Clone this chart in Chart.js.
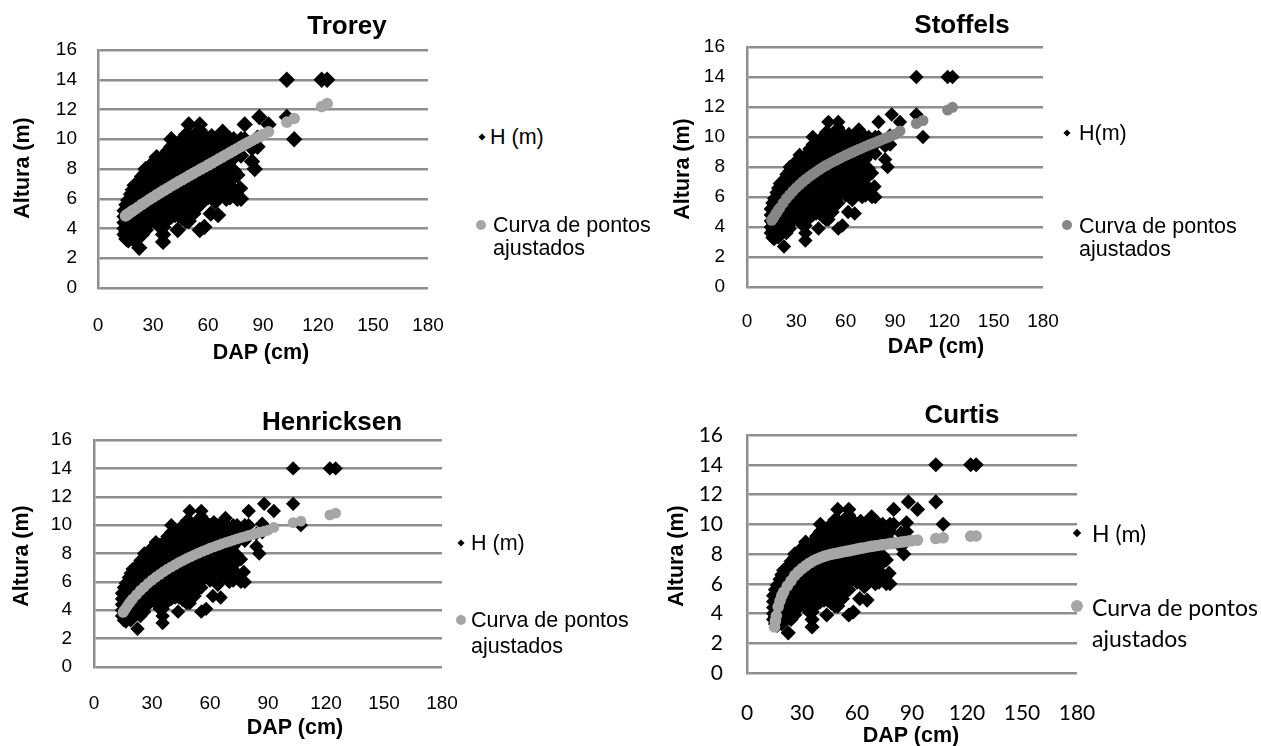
<!DOCTYPE html>
<html>
<head>
<meta charset="utf-8">
<title>Altura x DAP</title>
<script src="https://cdn.jsdelivr.net/npm/chart.js@4.4.1/dist/chart.umd.min.js"></script>
<style>
  html, body { margin: 0; padding: 0; background: #fff; }
  #page { position: relative; width: 1261px; height: 746px; overflow: hidden;
          font-family: 'Liberation Sans', Arial, sans-serif; color: #000; }
  canvas { position: absolute; }
  .txt { position: absolute; white-space: nowrap; line-height: 1; z-index: 2; }
  .title { font-weight: bold; font-size: 26px; transform: translate(-50%, -50%); }
  .axt { font-weight: bold; font-size: 21.5px; transform: translate(-50%, -50%); }
  .axt.rot { transform: translate(-50%, -50%) rotate(-90deg); }
  .leg { font-size: 21.5px; line-height: 23px; transform: translate(0, -11.5px); }
  .calibri { font-family: Lato, 'Open Sans', sans-serif; font-size: 23px; }
  .dia { position: absolute; width: 5px; height: 5px; background: #000; z-index: 2;
         transform: translate(-50%, -50%) rotate(45deg); }
  .dot { position: absolute; width: 10px; height: 10px; border-radius: 50%; z-index: 2;
         transform: translate(-50%, -50%); }
</style>
</head>
<body>
<div id="page">
  <canvas id="chartTrorey" width="476" height="345" style="left:0px;top:0px"></canvas>
  <canvas id="chartStoffels" width="451" height="340" style="left:640px;top:0px"></canvas>
  <canvas id="chartHenricksen" width="490" height="325" style="left:0px;top:400px"></canvas>
  <canvas id="chartCurtis" width="485" height="335" style="left:640px;top:395px"></canvas>

  <!-- Trorey -->
  <div class="txt title" style="left:347px;top:25px">Trorey</div>
  <div class="txt axt rot" style="left:23px;top:168px">Altura (m)</div>
  <div class="txt axt" style="left:261px;top:353px">DAP (cm)</div>
  <span class="dia" style="left:482px;top:137px"></span>
  <div class="txt leg" style="left:490px;top:137px">H (m)</div>
  <span class="dot" style="left:481px;top:225px;background:#a6a6a6"></span>
  <div class="txt leg" style="left:493px;top:225px">Curva de pontos<br>ajustados</div>

  <!-- Stoffels -->
  <div class="txt title" style="left:962px;top:24px">Stoffels</div>
  <div class="txt axt rot" style="left:683px;top:169px">Altura (m)</div>
  <div class="txt axt" style="left:936px;top:347px">DAP (cm)</div>
  <span class="dia" style="left:1067px;top:133px"></span>
  <div class="txt leg" style="left:1079px;top:133px">H(m)</div>
  <span class="dot" style="left:1067px;top:225px;background:#868686"></span>
  <div class="txt leg" style="left:1079px;top:226px">Curva de pontos<br>ajustados</div>

  <!-- Henricksen -->
  <div class="txt title" style="left:332px;top:421px">Henricksen</div>
  <div class="txt axt rot" style="left:22px;top:556px">Altura (m)</div>
  <div class="txt axt" style="left:295px;top:728px">DAP (cm)</div>
  <span class="dia" style="left:461px;top:543px"></span>
  <div class="txt leg" style="left:471px;top:543px">H (m)</div>
  <span class="dot" style="left:461px;top:620px;background:#a6a6a6"></span>
  <div class="txt leg" style="left:471px;top:620px;line-height:26px;transform:translate(0,-13px)">Curva de pontos<br>ajustados</div>

  <!-- Curtis -->
  <div class="txt title" style="left:962px;top:414px">Curtis</div>
  <div class="txt axt rot" style="left:677px;top:556px">Altura (m)</div>
  <div class="txt axt" style="left:911px;top:736px">DAP (cm)</div>
  <span class="dia" style="left:1077px;top:533px;width:6px;height:6px"></span>
  <div class="txt leg calibri" style="left:1092px;top:533px">H (m)</div>
  <span class="dot" style="left:1077px;top:606px;width:12px;height:12px;background:#a6a6a6"></span>
  <div class="txt leg calibri" style="left:1092px;top:607px;line-height:31px;transform:translate(0,-15.5px)">Curva de pontos<br>ajustados</div>
</div>

<script>
/* =========================
   DATA
 ========================= */
const xTicks = [0, 30, 60, 90, 120, 150, 180];
const yTicks = [0, 2, 4, 6, 8, 10, 12, 14, 16];

const obsDap = [
  14.5, 15.5, 16.5, 18, 19, 20, 22, 22.5, 24, 26, 28, 30, 32, 34, 35.5, 36, 38, 40,
  42, 43.5, 44, 46, 48, 49.5, 50, 52, 54, 55.5, 56, 58, 60, 61.5, 62, 64, 65.5, 66,
  68, 70, 72, 73, 74, 76, 77.5, 78, 80, 84, 85.5, 87, 88, 93, 103, 107, 122, 125
];
const obsH = [
  [3.6, 4.0, 4.4, 4.8, 5.2],
  [3.3, 3.8, 4.3, 4.8, 5.3, 5.6],
  [3.2, 3.55, 4.05, 4.55, 5.05, 5.55, 5.9],
  [3.5, 3.8, 4.3, 4.8, 5.3, 5.8, 6.3],
  [3.3, 4.05, 4.55, 5.05, 5.55, 6.05, 6.6],
  [3.7, 4.3, 4.8, 5.3, 5.8, 6.3, 6.9],
  [3.75, 4.25, 4.75, 5.25, 5.75, 6.25, 6.75, 7.1],
  [2.7],
  [3.6, 4.0, 4.5, 5.0, 5.5, 6.0, 6.5, 7.0, 7.5],
  [3.9, 4.25, 4.75, 5.25, 5.75, 6.25, 6.75, 7.25, 7.75, 8.0],
  [4.4, 4.8, 5.3, 5.8, 6.3, 6.8, 7.3, 7.8, 8.1],
  [4.7, 5.05, 5.55, 6.05, 6.55, 7.05, 7.55, 8.05, 8.4],
  [4.5, 5.0, 5.5, 6.0, 6.5, 7.0, 7.5, 8.0, 8.5, 8.8],
  [4.1, 4.75, 5.25, 5.75, 6.25, 6.75, 7.25, 7.75, 8.25, 8.6],
  [3.1, 3.6, 4.1],
  [4.5, 5.0, 5.5, 6.0, 6.5, 7.0, 7.5, 8.0, 8.5, 8.8],
  [4.6, 4.95, 5.45, 5.95, 6.45, 6.95, 7.45, 7.95, 8.45, 8.95, 9.2],
  [4.8, 5.2, 5.7, 6.2, 6.7, 7.2, 7.7, 8.2, 8.7, 9.2, 9.5, 10.0],
  [4.9, 5.35, 5.85, 6.35, 6.85, 7.35, 7.85, 8.35, 8.85, 9.35],
  [3.9],
  [4.9, 5.4, 5.9, 6.4, 6.9, 7.4, 7.9, 8.4, 8.9, 9.4, 9.7],
  [4.7, 5.15, 5.65, 6.15, 6.65, 7.15, 7.65, 8.15, 8.65, 9.15, 9.65, 10.0],
  [4.5, 5.0, 5.5, 6.0, 6.5, 7.0, 7.5, 8.0, 8.5, 9.0, 9.5, 10.0, 10.3],
  [4.5, 11.0],
  [5.25, 5.75, 6.25, 6.75, 7.25, 7.75, 8.25, 8.75, 9.25, 9.75, 10.2],
  [5.0, 5.5, 6.0, 6.5, 7.0, 7.5, 8.0, 8.5, 9.0, 9.5, 10.0],
  [5.5, 5.9, 6.4, 6.9, 7.4, 7.9, 8.4, 8.9, 9.4, 9.9, 10.4],
  [3.9, 5.6, 10.6, 11.0],
  [6.1, 6.6, 7.1, 7.6, 8.1, 8.6, 9.1, 9.6, 10.1],
  [4.1, 6.4, 7.3, 7.8, 8.3, 8.8, 9.3, 9.8, 10.2],
  [6.1, 6.9, 7.6, 8.1, 8.6, 9.1, 9.6, 10.0],
  [5.0],
  [6.5, 7.3, 8.3, 8.8, 9.3, 9.8, 10.2],
  [5.8, 6.8, 7.6, 8.5, 9.0, 9.5, 10.0],
  [4.9],
  [6.25, 7.2, 8.1, 8.7, 9.2, 9.7, 10.1],
  [6.5, 7.5, 8.4, 8.9, 9.4, 9.9, 10.5],
  [6.0, 7.0, 8.0, 8.8, 9.3, 9.8],
  [6.1, 7.7, 8.5, 9.1, 9.6, 10.0],
  [7.3],
  [6.6, 7.9, 8.8, 9.4, 10.0],
  [6.0, 7.6, 9.1, 9.7],
  [6.7],
  [6.0, 8.9, 9.5, 10.0],
  [10.0, 11.0],
  [8.5, 9.4],
  [8.0],
  [9.5, 10.1],
  [11.5],
  [11.0],
  [11.5, 14.0],
  [10.0],
  [14.0],
  [14.0]
];

// fitted heights (m) of each model at these DAP values (cm)
const fitDap = [
  15, 15.5, 16, 17, 18, 19, 20, 22, 24, 26, 28, 30, 32, 34, 36, 38, 40, 42, 44, 46, 48,
  50, 52, 54, 56, 58, 60, 62, 64, 66, 68, 70, 72, 74, 76, 78, 80, 82, 84, 86, 88, 90,
  93, 103, 107, 122, 125
];
const fitTrorey = [
  4.85, 4.9, 4.94, 5.03, 5.12, 5.2, 5.28, 5.45, 5.62, 5.78, 5.95, 6.1, 6.26, 6.41, 6.56,
  6.71, 6.86, 7.0, 7.15, 7.29, 7.43, 7.57, 7.71, 7.85, 7.99, 8.12, 8.26, 8.4, 8.54, 8.68,
  8.82, 8.96, 9.1, 9.24, 9.38, 9.52, 9.66, 9.79, 9.92, 10.05, 10.18, 10.31,
  10.5, 11.15, 11.4, 12.2, 12.4
];
const fitStoffels = [
  4.45, 4.52, 4.6, 4.78, 4.95, 5.12, 5.28, 5.6, 5.9, 6.15, 6.4, 6.62, 6.83, 7.03, 7.2,
  7.37, 7.53, 7.68, 7.83, 7.97, 8.1, 8.22, 8.34, 8.45, 8.56, 8.67, 8.78, 8.88, 8.98, 9.08,
  9.18, 9.27, 9.37, 9.46, 9.55, 9.64, 9.73, 9.82, 9.91, 10.0, 10.09, 10.18,
  10.4, 10.9, 11.1, 11.8, 11.98
];
const fitHenricksen = [
  3.85, 3.95, 4.05, 4.25, 4.45, 4.63, 4.8, 5.1, 5.4, 5.65, 5.9, 6.12, 6.33, 6.53, 6.72,
  6.9, 7.06, 7.22, 7.37, 7.51, 7.65, 7.78, 7.91, 8.03, 8.15, 8.26, 8.37, 8.47, 8.57, 8.67,
  8.76, 8.85, 8.94, 9.03, 9.11, 9.19, 9.27, 9.35, 9.42, 9.5, 9.57, 9.64,
  9.84, 10.18, 10.28, 10.72, 10.85
];
const fitCurtis = [
  3.1, 3.5, 3.85, 4.45, 4.85, 5.2, 5.45, 5.85, 6.2, 6.55, 6.8, 7.02, 7.2, 7.38, 7.53,
  7.65, 7.75, 7.84, 7.92, 7.98, 8.03, 8.08, 8.13, 8.18, 8.23, 8.28, 8.33, 8.38, 8.42, 8.47,
  8.51, 8.55, 8.59, 8.63, 8.66, 8.7, 8.73, 8.76, 8.8, 8.83, 8.87, 8.9,
  8.93, 9.04, 9.09, 9.2, 9.21
];

/* =========================
   HELPERS
 ========================= */
const GRID = '#8e8e8e';
const ARIAL = "'Liberation Sans', Arial, sans-serif";
const CALIBRI = "Lato, 'Open Sans', sans-serif";

function toPoints(xs, ys) {
  return xs.map((x, i) => ({ x: x, y: ys[i] }));
}

const observed = [];
obsDap.forEach((d, i) => {
  obsH[i].forEach(h => observed.push({ x: d, y: h }));
});

/* =========================
   CHARTS
 ========================= */
function makeChart(id, o) {
  const canvas = document.getElementById(id);
  if (!canvas || typeof Chart === 'undefined') return;
  const tickFont = { family: o.family || ARIAL, size: o.tickSize || 19 };

  new Chart(canvas.getContext('2d'), {
    type: 'scatter',
    data: {
      datasets: [
        {
          label: 'Curva de pontos ajustados',
          data: toPoints(fitDap, o.fit),
          pointStyle: 'circle',
          pointRadius: o.dotR,
          backgroundColor: o.gray,
          borderWidth: 0,
          order: 0
        },
        {
          label: 'H (m)',
          data: observed,
          pointStyle: 'rectRot',
          pointRadius: o.diaR,
          backgroundColor: '#000',
          borderWidth: 0,
          order: 1
        }
      ]
    },
    options: {
      responsive: false,
      animation: false,
      events: [],
      // right padding leaves room for the last x label plus its tick padding,
      // otherwise Chart.js shrinks the plot area
      layout: { padding: { top: o.padTop, right: o.padRight, left: 0, bottom: 0 } },
      plugins: { legend: { display: false }, tooltip: { enabled: false }, title: { display: false } },
      scales: {
        x: {
          type: 'linear',
          min: 0,
          max: 180,
          afterBuildTicks: s => { s.ticks = xTicks.map(v => ({ value: v })); },
          afterFit: s => { s.height = o.xH; },
          grid: { display: false, drawTicks: false },
          border: { display: false },
          ticks: { padding: o.xPad, font: tickFont, color: '#000', maxRotation: 0, autoSkip: false }
        },
        y: {
          type: 'linear',
          min: 0,
          max: 16,
          afterBuildTicks: s => { s.ticks = yTicks.map(v => ({ value: v })); },
          afterFit: s => { s.width = o.yW; },
          grid: { color: GRID, lineWidth: 2.5, drawTicks: false },
          border: { display: true, color: GRID, width: 2.5 },
          ticks: { padding: o.yPad, font: tickFont, color: '#000' }
        }
      }
    }
  });
}

// rectRot radius is scaled so the diamond's tip-to-tip size matches the reference
makeChart('chartTrorey', {
  fit: fitTrorey, gray: '#a6a6a6', dotR: 5.8, diaR: 8.2,
  padTop: 50, padRight: 48, yW: 98, xH: 57, xPad: 26.6, yPad: 21
});
makeChart('chartStoffels', {
  fit: fitStoffels, gray: '#868686', dotR: 5.5, diaR: 7.2,
  padTop: 47, padRight: 48, yW: 107, xH: 53, xPad: 23.6, yPad: 22
});
makeChart('chartHenricksen', {
  fit: fitHenricksen, gray: '#a6a6a6', dotR: 5.4, diaR: 7.2,
  padTop: 40, padRight: 48, yW: 94, xH: 58, xPad: 25.6, yPad: 22
});
makeChart('chartCurtis', {
  fit: fitCurtis, gray: '#a6a6a6', dotR: 5.8, diaR: 7.6,
  padTop: 40, padRight: 48, yW: 107, xH: 57, xPad: 27.4, yPad: 24,
  family: CALIBRI, tickSize: 21
});
</script>
</body>
</html>
